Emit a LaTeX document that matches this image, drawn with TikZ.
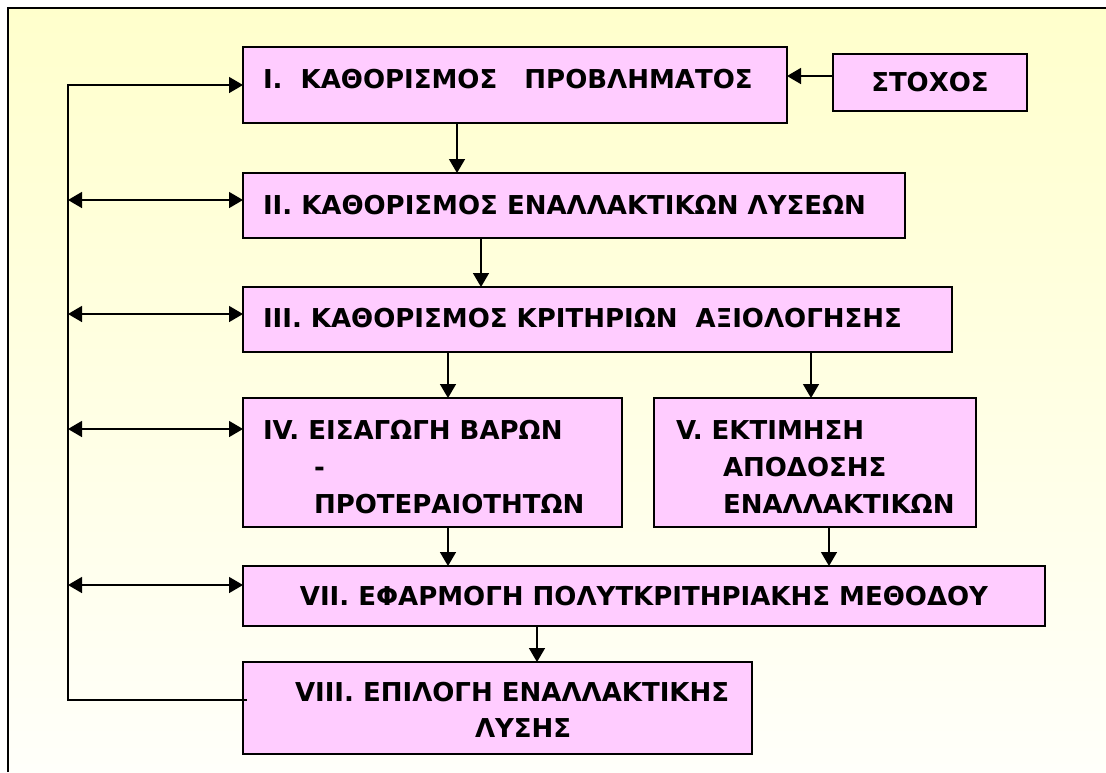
\documentclass[tikz,border=0pt]{standalone}
\usepackage{fontspec}
\usetikzlibrary{arrows.meta}
\newfontfamily\boxfont{DejaVu Sans}
\definecolor{boxpink}{RGB}{255,204,255}
\definecolor{paleyellow}{RGB}{255,255,204}
\definecolor{paperwhite}{RGB}{255,255,250}
\tikzset{
  boxtext/.style={font=\boxfont\bfseries\fontsize{26}{32}\selectfont},
  box/.style={draw=black, line width=2pt, fill=boxpink, inner sep=0pt, outer sep=0pt, boxtext},
  lbl/.style={inner sep=0pt, outer sep=0pt, anchor=base west, boxtext},
  arr/.style={line width=1.5pt, -{Triangle[length=14pt,width=16pt]}},
  darr/.style={line width=1.5pt, {Triangle[length=14pt,width=16pt]}-{Triangle[length=14pt,width=16pt]}}
}
\begin{document}
\begin{tikzpicture}[x=1pt,y=-1pt]
  % page and backdrop
  \useasboundingbox (0,0) rectangle (1106,772);
  \fill[white] (0,0) rectangle (1106,772);
  \shade[top color=paleyellow, bottom color=paperwhite] (8,8) rectangle (1106,772);
  \draw[line width=2pt] (8,772) -- (8,8) -- (1106,8);

  % process boxes
  \node[box, minimum width=544pt, minimum height=76pt]  (b1) at (515,85) {};
  \node[box, minimum width=194pt, minimum height=57pt]  (st) at (930,82.5) {ΣΤΟΧΟΣ};
  \node[box, minimum width=662pt, minimum height=65pt]  (b2) at (574,205.5) {};
  \node[box, minimum width=709pt, minimum height=65pt]  (b3) at (597.5,319.5) {};
  \node[box, minimum width=379pt, minimum height=129pt] (b4) at (432.5,462.5) {};
  \node[box, minimum width=322pt, minimum height=129pt] (b5) at (815,462.5) {};
  \node[box, minimum width=802pt, minimum height=60pt]  (b7) at (644,596) {VII. ΕΦΑΡΜΟΓΗ ΠΟΛΥΤΚΡΙΤΗΡΙΑΚΗΣ ΜΕΘΟΔΟΥ};
  \node[box, minimum width=509pt, minimum height=92pt]  (b8) at (497.5,708) {};

  % box captions
  \node[lbl] (t1)  at (263,88)  {I.\ \ ΚΑΘΟΡΙΣΜΟΣ\ \ \ ΠΡΟΒΛΗΜΑΤΟΣ};
  \node[lbl] (t2)  at (263,214) {II. ΚΑΘΟΡΙΣΜΟΣ ΕΝΑΛΛΑΚΤΙΚΩΝ ΛΥΣΕΩΝ};
  \node[lbl] (t3)  at (263,327) {III. ΚΑΘΟΡΙΣΜΟΣ ΚΡΙΤΗΡΙΩΝ\ \ ΑΞΙΟΛΟΓΗΣΗΣ};
  \node[lbl] (t4a) at (263,439) {IV. ΕΙΣΑΓΩΓΗ ΒΑΡΩΝ};
  \node[lbl] (t4b) at (314,476) {-};
  \node[lbl] (t4c) at (314,513) {ΠΡΟΤΕΡΑΙΟΤΗΤΩΝ};
  \node[lbl] (t5a) at (676,439) {V. ΕΚΤΙΜΗΣΗ};
  \node[lbl] (t5b) at (723,476) {ΑΠΟΔΟΣΗΣ};
  \node[lbl] (t5c) at (723,513) {ΕΝΑΛΛΑΚΤΙΚΩΝ};
  \node[lbl] (t8a) at (295,701) {VIII. ΕΠΙΛΟΓΗ ΕΝΑΛΛΑΚΤΙΚΗΣ};
  \node[lbl] (t8b) at (475,737) {ΛΥΣΗΣ};

  % columns of the downward arrows and the feedback rail
  \coordinate (c12) at (457,0);
  \coordinate (c23) at (481,0);
  \coordinate (c34) at (448,0);
  \coordinate (c35) at (811,0);
  \coordinate (c57) at (829,0);
  \coordinate (c78) at (537,0);
  \coordinate (L)   at (68,0);

  % goal feeds the problem definition
  \coordinate (sa) at ([yshift=6.5pt]st.west);
  \draw[arr] (sa) -- (sa -| b1.east);

  % main flow
  \draw[arr] (b1.south -| c12) -- (b2.north -| c12);
  \draw[arr] (b2.south -| c23) -- (b3.north -| c23);
  \draw[arr] (b3.south -| c34) -- (b4.north -| c34);
  \draw[arr] (b3.south -| c35) -- (b5.north -| c35);
  \draw[arr] (b4.south -| c34) -- (b7.north -| c34);
  \draw[arr] (b5.south -| c57) -- (b7.north -| c57);
  \draw[arr] (b7.south -| c78) -- (b8.north -| c78);

  % feedback rail from the selection back to the start
  \coordinate (r8) at ([xshift=4pt,yshift=8pt]b8.west);
  \draw[arr] (r8) -- (r8 -| L) |- (b1.west);

  % two-way links between the rail and the stages
  \coordinate (a2) at ([yshift=5.5pt]b2.west);
  \coordinate (a3) at ([yshift=5.5pt]b3.west);
  \coordinate (a4) at ([yshift=33.5pt]b4.west);
  \coordinate (a7) at ([yshift=11pt]b7.west);
  \draw[darr] (a2 -| L) -- (a2);
  \draw[darr] (a3 -| L) -- (a3);
  \draw[darr] (a4 -| L) -- (a4);
  \draw[darr] (a7 -| L) -- (a7);
\end{tikzpicture}
\end{document}
